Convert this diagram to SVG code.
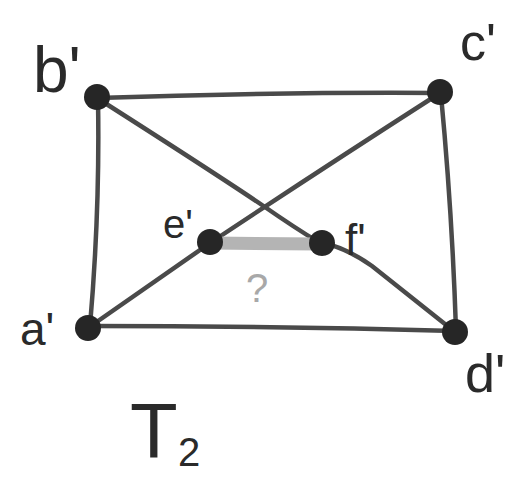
<svg xmlns="http://www.w3.org/2000/svg" width="522" height="480" viewBox="0 0 522 480">
<style>
.e{fill:none;stroke:#4a4a4a;stroke-width:4.5;stroke-linecap:round}
.n{fill:#262626}
.l{font-family:"Liberation Sans",sans-serif;fill:#2a2a2a}
</style>
<rect width="522" height="480" fill="#ffffff"/>
<g id="connectors">
<path class="e" d="M97,98 Q270,92 440,93"/>
<path class="e" d="M98,100 Q100,210 90,326"/>
<path class="e" d="M441,95 Q452,210 456,330"/>
<path class="e" d="M88,326 Q270,326 455,331"/>
<path class="e" d="M97,98 Q210,170 262,205 Q295,228 320,243"/>
<path class="e" d="M440,93 Q320,170 210,243"/>
<path class="e" d="M88,328 Q150,285 210,243"/>
<path class="e" d="M322,243 Q345,247 372,266 L455,332"/>
<path d="M212,243 L318,244" stroke="#b4b4b4" stroke-width="13" fill="none"/>
</g>
<g id="a"><circle class="n" cx="88" cy="328" r="13"/><text class="l" x="20" y="345" font-size="46">a'</text></g>
<g id="b"><circle class="n" cx="97" cy="97" r="13"/><text class="l" x="33" y="92" font-size="64">b'</text></g>
<g id="c"><circle class="n" cx="440" cy="92" r="13"/><text class="l" x="460" y="60" font-size="52">c'</text></g>
<g id="d"><circle class="n" cx="455" cy="332" r="13"/><text class="l" x="465" y="392" font-size="54">d'</text></g>
<g id="e"><circle class="n" cx="210" cy="242" r="13"/><text class="l" x="163" y="238" font-size="40">e'</text></g>
<g id="f"><circle class="n" cx="322" cy="243" r="13"/><text class="l" x="345" y="255" font-size="44">f'</text></g>
<g id="q"><text class="l" x="246" y="302" font-size="40" style="fill:#a8a8a8">?</text></g>
<g id="label"><text class="l" x="130" y="458" font-size="78">T</text><text class="l" x="178" y="466" font-size="40">2</text></g>
</svg>
